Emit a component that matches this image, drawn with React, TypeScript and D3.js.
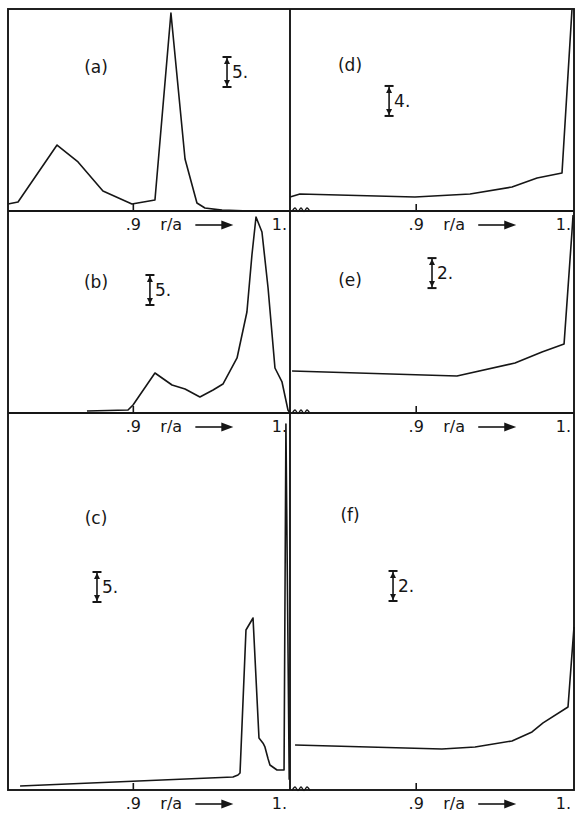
import React from "react";
import * as d3 from "d3";

// curve readings: r/a and height (in scale-bar units above each panel's base line)
const rA = [0.82, 0.8264, 0.8513, 0.8647, 0.8806, 0.8991, 0.9138, 0.924, 0.933, 0.9406, 0.9457, 0.9566, 0.97, 1.0];
const vA = [1.17, 1.5, 11, 8.17, 3.33, 1.17, 1.83, 33, 8.67, 1.33, 0.5, 0.15, 0.05, 0];

const rB = [0.8704, 0.8966, 0.8998, 0.9138, 0.9247, 0.933, 0.9425, 0.9509, 0.9572, 0.9662, 0.9725, 0.9757, 0.9783, 0.9821, 0.986, 0.9904, 0.9949, 0.9987, 1.0];
const vB = [0.33, 0.5, 1.33, 6.67, 4.67, 4, 2.67, 3.83, 4.83, 9.17, 16.83, 26.33, 32.67, 30.17, 20.83, 7.5, 5.17, 0.5, 0];

const rC = [0.8277, 0.9636, 0.9668, 0.9681, 0.9719, 0.9764, 0.9802, 0.9828, 0.984, 0.986, 0.9872, 0.9917, 0.9962, 0.9974, 0.9995];
const vC = [0.67, 2.17, 2.5, 2.83, 26.67, 28.67, 8.67, 7.8, 7.17, 5.2, 4.17, 3.33, 3.33, 61, 1.7];

const rD = [0.82, 0.8263, 0.8992, 0.9341, 0.9607, 0.9766, 0.9924, 0.9987];
const vD = [1.87, 2.27, 1.87, 2.27, 3.2, 4.4, 5.07, 26.8];

const rE = [0.8213, 0.9258, 0.9626, 0.9797, 0.9937, 0.9987, 0.9994];
const vE = [2.8, 2.47, 3.33, 4.07, 4.6, 12.07, 13.2];

const rF = [0.8232, 0.9163, 0.9373, 0.9607, 0.9734, 0.9804, 0.9962, 1.0];
const vF = [3.0, 2.73, 2.87, 3.27, 3.87, 4.47, 5.53, 10.87];

// scale bar sizes printed in each panel
const barSizes = [5, 5, 5, 4, 2, 2];
const panelNames = ["(a)", "(b)", "(c)", "(d)", "(e)", "(f)"];

const width = 578;
const height = 813;
const colX = [8, 290, 574];
const rowY = [9, 211, 413, 790];
const rDomain: [number, number] = [0.82, 1.0];

const panels = [
  { col: 0, row: 0, r: rA, v: vA, top: 33.67, barAt: [0.9598, 20.67], labelAt: [88, 58] },
  { col: 0, row: 1, r: rB, v: vB, top: 33.67, barAt: [0.9106, 18], labelAt: [88, 71] },
  { col: 0, row: 2, r: rC, v: vC, top: 62.83, barAt: [0.8768, 31.33], labelAt: [88, 105] },
  { col: 1, row: 0, r: rD, v: vD, top: 26.93, barAt: [0.8828, 12.67], labelAt: [60, 56] },
  { col: 1, row: 1, r: rE, v: vE, top: 13.47, barAt: [0.91, 8.33], labelAt: [60, 69] },
  { col: 1, row: 2, r: rF, v: vF, top: 25.13, barAt: [0.8853, 12.6], labelAt: [60, 102] },
];

const ink = "#161616";
const font = "'DejaVu Sans', sans-serif";

const ScaleBar = ({ x, y0, y1, label }: { x: number; y0: number; y1: number; label: string }) => {
  const a = 3;
  return (
    <g stroke={ink} fill={ink}>
      <line x1={x} x2={x} y1={y0} y2={y1} strokeWidth={1.6} />
      <line x1={x - 4.5} x2={x + 4.5} y1={y0} y2={y0} strokeWidth={2} />
      <line x1={x - 4.5} x2={x + 4.5} y1={y1} y2={y1} strokeWidth={2} />
      <path d={`M${x},${y1 + 1}L${x - a},${y1 + 7}L${x + a},${y1 + 7}Z`} stroke="none" />
      <path d={`M${x},${y0 - 1}L${x - a},${y0 - 7}L${x + a},${y0 - 7}Z`} stroke="none" />
      <text x={x + 5} y={(y0 + y1) / 2 + 6} fontSize={17} fontFamily={font} stroke="none">
        {label}
      </text>
    </g>
  );
};

const App = () => {
  return (
    <svg
      width={width}
      height={height}
      style={{ position: "absolute", left: 0, top: 0, background: "#fff" }}
    >
      {panels.map((p, i) => {
        const x0 = colX[p.col];
        const x1 = colX[p.col + 1];
        const yTop = rowY[p.row];
        const yBot = rowY[p.row + 1];
        const x = d3.scaleLinear().domain(rDomain).range([x0, x1]);
        const y = d3.scaleLinear().domain([0, p.top]).range([yBot, yTop]);
        const line = d3
          .line<number>()
          .x((_, k) => x(p.r[k]))
          .y((d) => y(d));
        const bx = x(p.barAt[0]);
        const by0 = y(p.barAt[1]);
        const by1 = y(p.barAt[1] + barSizes[i]);
        const tx = x(0.9);
        const ly = yBot + 19;
        // broken-axis squiggle at the left end of the right-hand panels
        const zig = d3.range(0, 7).map((k) => [x0 + 2 + k * 3, yBot + (k % 2 === 0 ? 0.5 : -3)] as [number, number]);
        return (
          <g key={i}>
            <path d={line(p.v) ?? ""} fill="none" stroke={ink} strokeWidth={1.6} strokeLinejoin="round" />
            <line x1={tx} x2={tx} y1={yBot} y2={yBot - 7} stroke={ink} strokeWidth={1.6} />
            {p.col === 1 && (
              <path d={d3.line().curve(d3.curveCardinal)(zig) ?? ""} fill="none" stroke={ink} strokeWidth={1.4} />
            )}
            <text x={x0 + p.labelAt[0]} y={yTop + p.labelAt[1] + 6} fontSize={17} fontFamily={font} fill={ink} textAnchor="middle">
              {panelNames[i]}
            </text>
            <ScaleBar x={bx} y0={by0} y1={by1} label={`${barSizes[i]}.`} />
            <g fontSize={16} fontFamily={font} fill={ink}>
              <text x={tx} y={ly} textAnchor="middle">.9</text>
              <text x={tx + 27} y={ly}>r/a</text>
              <text x={x(1.0) - 3} y={ly} textAnchor="end">1.</text>
            </g>
            <line x1={tx + 62} x2={tx + 92} y1={ly - 5} y2={ly - 5} stroke={ink} strokeWidth={1.6} />
            <path d={`M${tx + 100},${ly - 5}L${tx + 88},${ly - 9.5}L${tx + 88},${ly - 0.5}Z`} fill={ink} />
          </g>
        );
      })}
      <rect
        x={colX[0]}
        y={rowY[0]}
        width={colX[2] - colX[0]}
        height={rowY[3] - rowY[0]}
        fill="none"
        stroke={ink}
        strokeWidth={1.9}
      />
      <line x1={colX[1]} x2={colX[1]} y1={rowY[0]} y2={rowY[3]} stroke={ink} strokeWidth={1.9} />
      {[rowY[1], rowY[2]].map((yy) => (
        <line key={yy} x1={colX[0]} x2={colX[2]} y1={yy} y2={yy} stroke={ink} strokeWidth={1.9} />
      ))}
    </svg>
  );
};

export default App;
